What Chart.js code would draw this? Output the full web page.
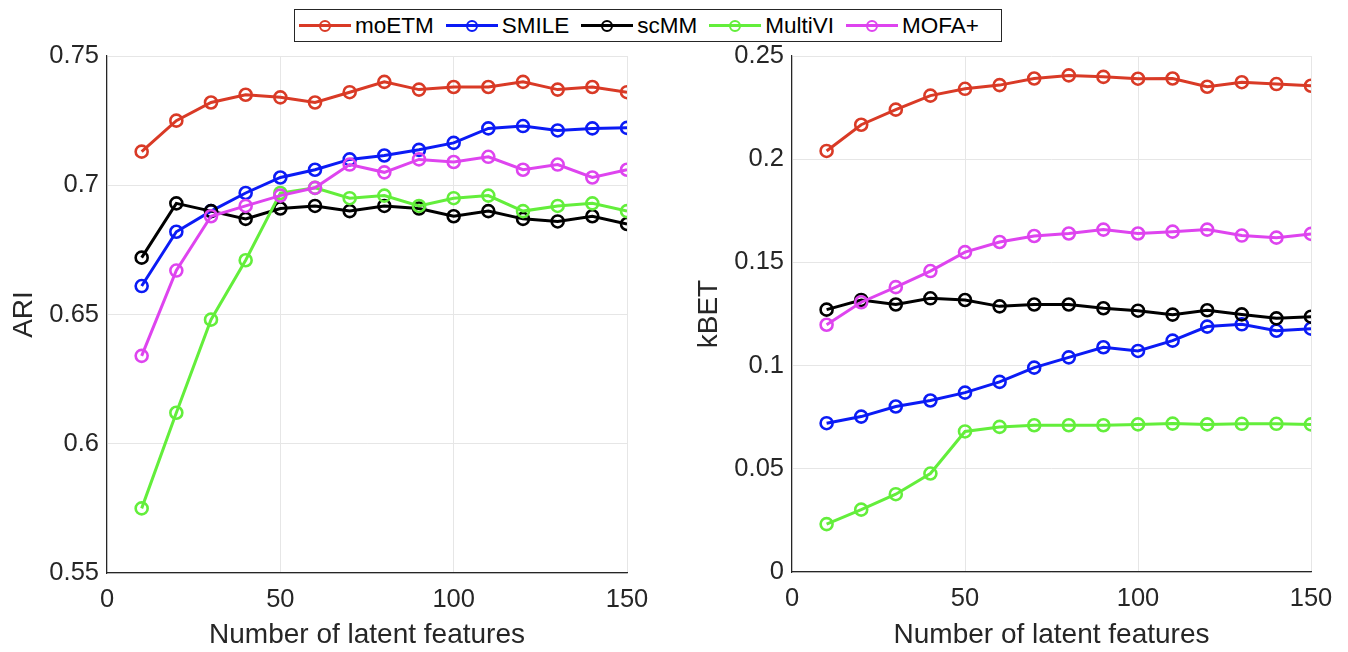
<!DOCTYPE html>
<html>
<head>
<meta charset="utf-8">
<script src="https://cdn.jsdelivr.net/npm/chart.js@4"></script>
<style>
  html, body { margin:0; padding:0; background:#fff; }
  body { width:1348px; height:652px; position:relative; overflow:hidden; font-family:"Liberation Sans", Arial, sans-serif; }
  #c1 { position:absolute; left:0; top:0; }
  #c2 { position:absolute; left:685px; top:0; }
  #legend { position:absolute; left:294px; top:9px; height:31px; border:1px solid #262626; background:#fff;
            display:flex; align-items:center; padding:0 22px 0 4px; gap:12px; box-sizing:content-box; }
  .item { display:flex; align-items:center; gap:4px; }
  .sw { position:relative; width:52px; height:14px; }
  .sw .ln { position:absolute; left:0; right:0; top:5.5px; height:3px; }
  .sw .mk { position:absolute; left:20px; top:1px; width:8px; height:8px; border-radius:50%; border:2.5px solid; background:transparent; }
  .lt { font-size:22.5px; color:#000; line-height:31px; }
</style>
</head>
<body>
<canvas id="c1" width="674" height="652"></canvas>
<canvas id="c2" width="663" height="652"></canvas>
<div id="legend"></div>
<script>
// ---- data ----
const xValues = [10, 20, 30, 40, 50, 60, 70, 80, 90, 100, 110, 120, 130, 140, 150];
const seriesNames = ['moETM', 'SMILE', 'scMM', 'MultiVI', 'MOFA+'];
const seriesColors = ['#d93a26', '#0b1bf5', '#000000', '#63ee3b', '#de44ef'];

const ariMoETM   = [0.713, 0.725, 0.732, 0.735, 0.734, 0.732, 0.736, 0.740, 0.737, 0.738, 0.738, 0.740, 0.737, 0.738, 0.736];
const ariSMILE   = [0.661, 0.682, 0.690, 0.697, 0.703, 0.706, 0.710, 0.7115, 0.7137, 0.7164, 0.722, 0.7229, 0.7212, 0.722, 0.7222];
const ariScMM    = [0.672, 0.693, 0.690, 0.687, 0.691, 0.692, 0.690, 0.692, 0.691, 0.688, 0.690, 0.687, 0.686, 0.688, 0.685];
const ariMultiVI = [0.575, 0.612, 0.648, 0.671, 0.697, 0.699, 0.695, 0.696, 0.692, 0.695, 0.696, 0.690, 0.692, 0.693, 0.690];
const ariMOFA    = [0.634, 0.667, 0.688, 0.692, 0.696, 0.699, 0.708, 0.705, 0.710, 0.709, 0.711, 0.706, 0.708, 0.703, 0.706];

const kbetMoETM   = [0.204, 0.2167, 0.224, 0.2308, 0.2341, 0.2359, 0.2391, 0.2406, 0.2399, 0.239, 0.2391, 0.2351, 0.2373, 0.2364, 0.2356];
const kbetSMILE   = [0.0721, 0.0753, 0.0802, 0.0831, 0.0869, 0.0921, 0.099, 0.104, 0.1089, 0.1071, 0.1121, 0.1189, 0.120, 0.1169, 0.1179];
const kbetScMM    = [0.1271, 0.1318, 0.1296, 0.1326, 0.1318, 0.1287, 0.1296, 0.1296, 0.1278, 0.1266, 0.1247, 0.1268, 0.1248, 0.1229, 0.1237];
const kbetMultiVI = [0.0232, 0.0302, 0.0377, 0.0477, 0.0681, 0.0703, 0.0711, 0.0711, 0.0711, 0.0715, 0.0719, 0.0715, 0.0718, 0.0718, 0.0715];
const kbetMOFA    = [0.1198, 0.1307, 0.138, 0.1458, 0.155, 0.1599, 0.1628, 0.164, 0.1659, 0.164, 0.1649, 0.1659, 0.163, 0.162, 0.1638];

const xTicks = [0, 50, 100, 150];
const ariTicks = [0.55, 0.6, 0.65, 0.7, 0.75];
const kbetTicks = [0, 0.05, 0.1, 0.15, 0.2, 0.25];

const xTitle = 'Number of latent features';

// ---- helpers ----
const TXT = '#262626';
const GRID = '#e6e6e6';
const FONT = "'Liberation Sans', Arial, sans-serif";

function makeDatasets(valueArrays) {
  return valueArrays.map((vals, i) => ({
    label: seriesNames[i],
    data: xValues.map((x, j) => ({ x: x, y: vals[j] })),
    borderColor: seriesColors[i],
    backgroundColor: 'rgba(0,0,0,0)',
    pointBorderColor: seriesColors[i],
    pointBackgroundColor: 'rgba(0,0,0,0)',
    borderWidth: 3,
    pointRadius: 6,
    pointBorderWidth: 2.6,
    pointStyle: 'circle',
    tension: 0,
    order: valueArrays.length - i
  }));
}

function fmt(v) { return String(Number(v.toFixed(2))); }

function makeChart(canvas, datasets, yTicks, yTitle, padRight, xHeight) {
  return new Chart(canvas, {
    type: 'line',
    data: { datasets: datasets },
    options: {
      responsive: false,
      animation: false,
      events: [],
      layout: { padding: { left: 0, top: 56, right: padRight, bottom: 0 } },
      plugins: { legend: { display: false }, tooltip: { enabled: false } },
      scales: {
        x: {
          type: 'linear',
          min: xTicks[0], max: xTicks[xTicks.length - 1],
          afterBuildTicks: s => { s.ticks = xTicks.map(v => ({ value: v })); },
          afterFit: s => { s.height = xHeight; },
          ticks: { color: TXT, font: { family: FONT, size: 25.5 }, padding: 12, callback: v => fmt(v), maxRotation: 0 },
          grid: { color: GRID, lineWidth: 1, drawTicks: false },
          border: { display: true, color: TXT, width: 1.2 },
          title: { display: true, text: xTitle, color: TXT, font: { family: FONT, size: 28 }, padding: { top: 0, bottom: 0 } }
        },
        y: {
          type: 'linear',
          min: yTicks[0], max: yTicks[yTicks.length - 1],
          afterBuildTicks: s => { s.ticks = yTicks.map(v => ({ value: v })); },
          afterFit: s => { s.width = 107; },
          ticks: { color: TXT, font: { family: FONT, size: 25.5 }, padding: 8, callback: v => fmt(v) },
          grid: { color: GRID, lineWidth: 1, drawTicks: false },
          border: { display: true, color: TXT, width: 1.2 },
          title: { display: true, text: yTitle, color: TXT, font: { family: FONT, size: 28 }, padding: { top: 7, bottom: 0 } }
        }
      }
    }
  });
}

makeChart(document.getElementById('c1'),
  makeDatasets([ariMoETM, ariSMILE, ariScMM, ariMultiVI, ariMOFA]),
  ariTicks, 'ARI', 674 - 627, 652 - 573);

makeChart(document.getElementById('c2'),
  makeDatasets([kbetMoETM, kbetSMILE, kbetScMM, kbetMultiVI, kbetMOFA]),
  kbetTicks, 'kBET', 663 - 626, 652 - 572);

// ---- shared legend ----
const legend = document.getElementById('legend');
seriesNames.forEach((name, i) => {
  const item = document.createElement('div');
  item.className = 'item';
  const sw = document.createElement('div');
  sw.className = 'sw';
  const ln = document.createElement('div');
  ln.className = 'ln';
  ln.style.background = seriesColors[i];
  const mk = document.createElement('div');
  mk.className = 'mk';
  mk.style.borderColor = seriesColors[i];
  sw.appendChild(ln); sw.appendChild(mk);
  const t = document.createElement('span');
  t.className = 'lt';
  t.textContent = name;
  item.appendChild(sw); item.appendChild(t);
  legend.appendChild(item);
});
</script>
</body>
</html>
